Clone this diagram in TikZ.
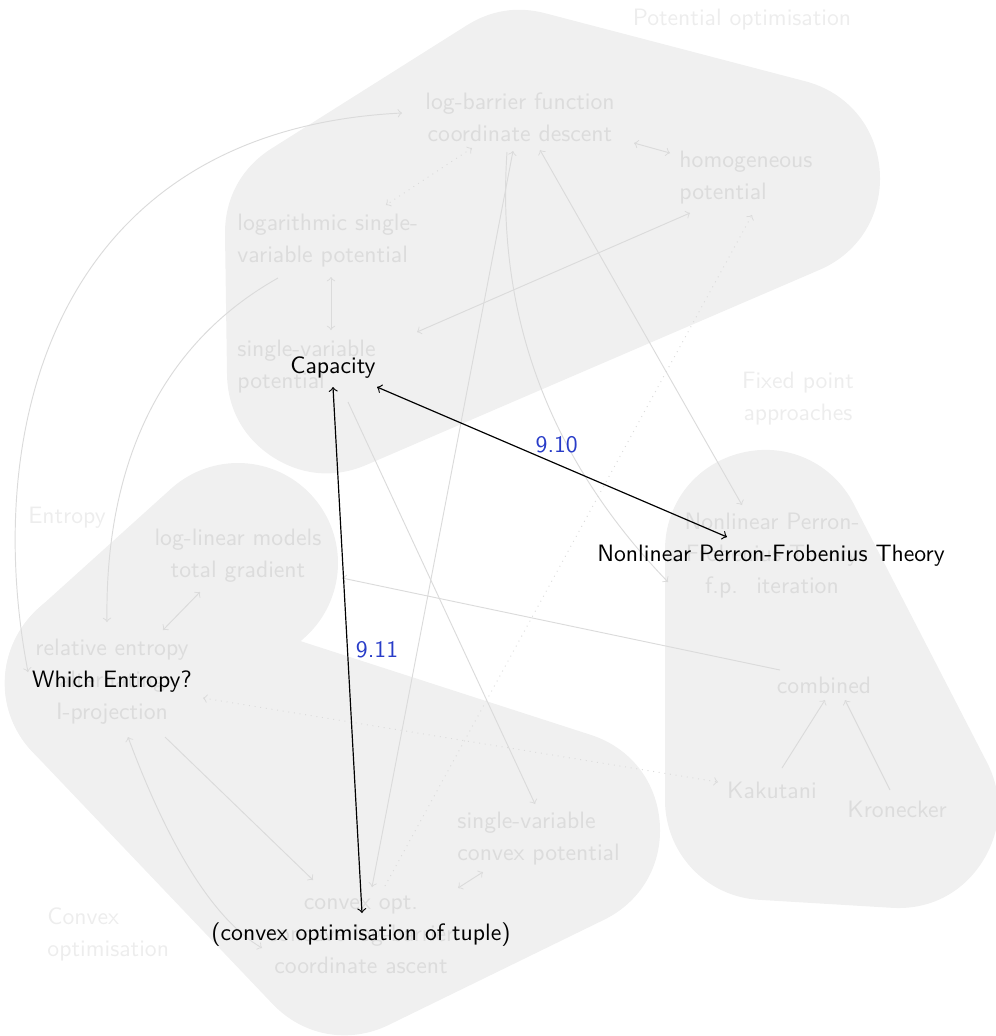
\documentclass[tikz,border=0pt]{standalone}
\usetikzlibrary{calc}
\definecolor{blobc}{RGB}{240,240,240}
\definecolor{fadet}{RGB}{220,220,220}
\definecolor{fadel}{RGB}{219,219,219}
\definecolor{grpc}{RGB}{237,237,237}
\definecolor{refblue}{RGB}{40,60,200}
\begin{document}
\begin{tikzpicture}[x=0.422pt,y=-0.422pt,
  font=\sffamily\fontsize{10}{13.5}\selectfont,
  blob/.style={draw=blobc, fill=blobc, line width=84.4pt, line join=round, line cap=round},
  fnode/.style={text=fadet, inner sep=0pt, align=center},
  fnodel/.style={text=fadet, inner sep=0pt, align=left, anchor=west},
  grp/.style={text=grpc, inner sep=0pt, align=center},
  fedge/.style={draw=fadel, line width=0.4pt},
  hnode/.style={text=black, inner sep=0pt},
  hedge/.style={draw=black, line width=0.5pt},
  elabel/.style={text=refblue}]

\useasboundingbox (0,0) rectangle (996,1036);

% group blobs
\path[blob] (325,233) -- (520,110) -- (780,178) -- (327,373) -- cycle;
\path[blob] (238,563) -- (105,683);
\path[blob] (105,683) -- (345,935) -- (560,830) -- cycle;
\path[blob] (765,550) -- (765,800) -- (898,808) -- cycle;

% group labels
\node[grp] (gpot) at (742,20) {Potential optimisation};
\node[grp] (gfix) at (798,399) {Fixed point\\approaches};
\node[grp] (gent) at (67,518) {Entropy};
\node[grp, align=left, anchor=west] (gcvx) at (47,934) {Convex\\optimisation};

% faded nodes
\node[fnode] (lb) at (520,117) {log-barrier function\\coordinate descent};
\node[fnodel] (hom) at (679,178) {homogeneous\\potential};
\node[fnodel] (logsv) at (237,241) {logarithmic single-\\variable potential};
\node[fnodel] (sv) at (237,367) {single-variable\\potential};
\node[fnode] (llm) at (238,556) {log-linear models\\total gradient};
\node[fnode] (re) at (112,682) {relative entropy\\alternating\\I-projection};
\node[fnode] (npf) at (772,556) {Nonlinear Perron-\\Frobenius Theory\\f.p.~ iteration};
\node[fnode] (comb) at (824,685) {combined};
\node[fnode] (kak) at (772,790) {Kakutani};
\node[fnode] (kron) at (897,809) {Kronecker};
\node[fnodel] (svc) at (457,839) {single-variable\\convex potential};
\node[fnode] (cvx) at (361,935) {convex opt.\\concave log-barrier\\coordinate ascent};

% faded connectors
\draw[fedge,<->] ($(re)+(-84,-10)$) .. controls (-20,420) and (60,130) .. ($(lb)+(-118,-4)$);
\draw[fedge,->] ($(logsv.west)+(41,37)$) .. controls (150,350) and (105,480) .. ($(re)+(-5,-60)$);
\draw[fedge,<->] ($(llm)+(-38,36)$) -- ($(re)+(51,-52)$);
\draw[fedge,<->] ($(logsv.west)+(94,36)$) -- ($(sv.west)+(94,-37)$);
\draw[fedge,<->] ($(lb)+(114,26)$) -- ($(hom.west)+(-9,-25)$);
\draw[fedge,<->,dotted] ($(lb)+(-48,31)$) -- ($(logsv.west)+(149,-36)$);
\draw[fedge,<->] ($(sv.west)+(180,-35)$) -- ($(hom.west)+(11,35)$);
\draw[fedge,->,dotted] ($(cvx)+(24,-49)$) -- ($(hom.west)+(73,37)$);
\draw[fedge,<->] ($(lb)+(-7,34)$) -- ($(cvx)+(11,-48)$);
\draw[fedge,->] ($(lb)+(-13,35)$) .. controls (495,330) and (560,470) .. ($(npf)+(-104,26)$);
\draw[fedge,<->] ($(lb)+(20,33)$) -- ($(npf)+(-30,-51)$);
\draw[fedge,->] ($(sv.west)+(111,35)$) -- ($(svc.west)+(78,-35)$);
\draw[fedge,<-] ($(llm)+(104,22)$) -- ($(comb)+(-44,-15)$);
\draw[fedge,<->,dotted] ($(re)+(91,16)$) -- ($(kak)+(-54,-8)$);
\draw[fedge,<->] ($(re)+(16,55)$) .. controls (170,850) and (215,920) .. ($(cvx)+(-99,13)$);
\draw[fedge,->] ($(re)+(53,55)$) -- ($(cvx)+(-48,-55)$);
\draw[fedge,<->] ($(cvx)+(97,-47)$) -- ($(svc.west)+(26,33)$);
\draw[fedge,->] ($(kak)+(10,-22)$) -- ($(comb)+(1,15)$);
\draw[fedge,->] ($(kron)+(-7,-19)$) -- ($(comb)+(21,15)$);

% highlighted nodes
\node[hnode] (cap) at (333,368) {Capacity};
\node[hnode] (npft) at (771,556) {Nonlinear Perron-Frobenius Theory};
\node[hnode] (we) at (112,682) {Which Entropy?};
\node[hnode] (cot) at (361,935) {(convex optimisation of tuple)};

% highlighted connectors
\draw[hedge,<->] ($(cap)+(44,19)$) -- node[elabel, midway, above, xshift=2pt] {9.10} ($(npft)+(-44,-19)$);
\draw[hedge,<->] ($(cap)+(0,19)$) -- node[elabel, midway, right] {9.11} ($(cot)+(1,-22)$);
\end{tikzpicture}
\end{document}
